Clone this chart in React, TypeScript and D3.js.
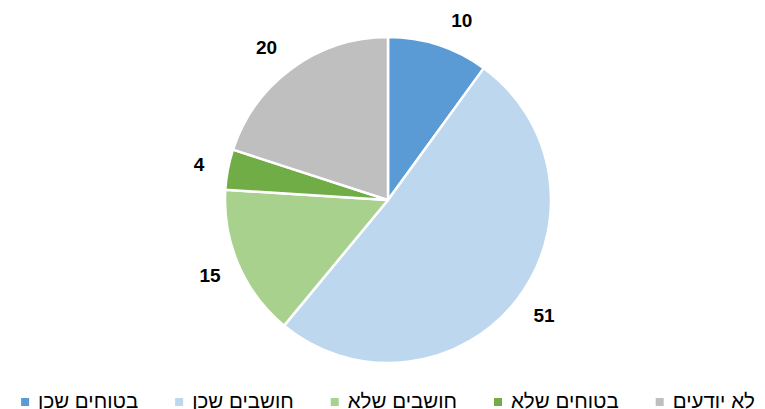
import React, { useMemo } from "react";
import * as d3 from "d3";

const categories = ["בטוחים שכן", "חושבים שכן", "חושבים שלא", "בטוחים שלא", "לא יודעים"];
const values = [10, 51, 15, 4, 20];
const colors = ["#5B9BD5", "#BDD7EE", "#A9D18E", "#70AD47", "#BFBFBF"];

const W = 765;
const H = 409;
const CX = 388;
const CY = 200;
const R = 163;
const LEGEND_FONT = "20.5px 'Liberation Sans', Arial, sans-serif";
const LABEL_FONT = "bold 19px 'Liberation Sans', Arial, sans-serif";

function measure(text: string, font: string): number {
  if (typeof document === "undefined") return text.length * 10;
  const c = document.createElement("canvas");
  const ctx = c.getContext("2d");
  if (!ctx) return text.length * 10;
  ctx.font = font;
  return ctx.measureText(text).width;
}

export default function App() {
  const pie = d3.pie<number>().value((d) => d).sort(null);
  const arcs = pie(values);
  const arc = d3.arc<d3.PieArcDatum<number>>().innerRadius(0).outerRadius(R);

  const legend = useMemo(() => {
    const marker = 8;
    const gapMT = 9;
    const gapItem = 37;
    const widths = categories.map((c) => measure(c, LEGEND_FONT));
    const itemW = widths.map((w) => marker + gapMT + w);
    const total = itemW.reduce((a, b) => a + b, 0) + gapItem * (categories.length - 1);
    let x = CX - total / 2;
    return categories.map((c, i) => {
      const item = { x, w: widths[i], c, color: colors[i] };
      x += itemW[i] + gapItem;
      return item;
    });
  }, []);

  return (
    <svg width={W} height={H} style={{ position: "absolute", left: 0, top: 0, background: "#fff" }}>
      <rect x={0} y={0} width={W} height={H} fill="#fff" />
      <g transform={`translate(${CX},${CY})`}>
        {arcs.map((a, i) => (
          <path key={i} d={arc(a) || ""} fill={colors[i]} stroke="#fff" strokeWidth={2.5} strokeLinejoin="round" />
        ))}
        {arcs.map((a, i) => {
          const mid = (a.startAngle + a.endAngle) / 2;
          const s = Math.sin(mid);
          const c = -Math.cos(mid);
          const px = (R + 8) * s + 21 * Math.sign(s);
          const py = (R + 8) * c + 18 * c;
          return (
            <text
              key={"l" + i}
              x={px}
              y={py}
              textAnchor="middle"
              dominantBaseline="central"
              style={{ font: LABEL_FONT }}
              fill="#000"
            >
              {values[i]}
            </text>
          );
        })}
      </g>
      <g>
        {legend.map((it, i) => (
          <g key={"g" + i}>
            <rect x={it.x} y={398} width={8} height={8} fill={it.color} />
            <text x={it.x + 17} y={408} style={{ font: LEGEND_FONT }} fill="#000">
              {it.c}
            </text>
          </g>
        ))}
      </g>
    </svg>
  );
}
